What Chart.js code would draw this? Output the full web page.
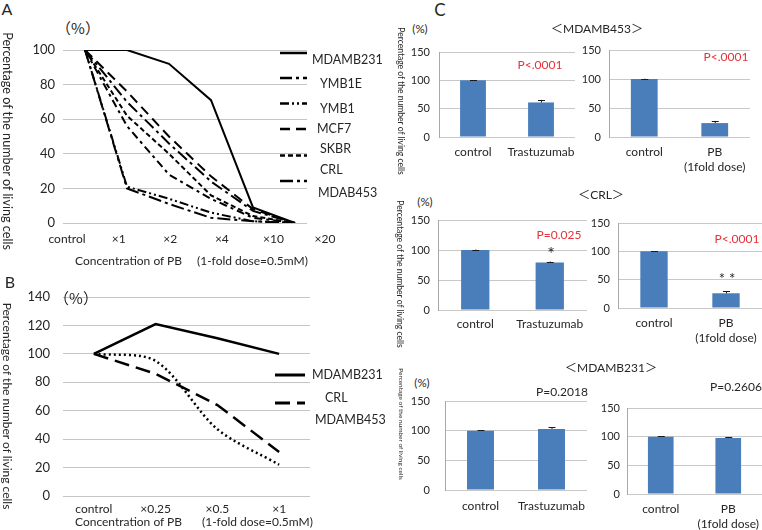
<!DOCTYPE html>
<html><head><meta charset="utf-8">
<script src="https://cdn.jsdelivr.net/npm/chart.js@4.4.1/dist/chart.umd.min.js"></script>
<style>
html,body{margin:0;padding:0;background:#fff;}
#stage{position:relative;width:762px;height:530px;overflow:hidden;font-family:Lato,'Noto Sans CJK JP',sans-serif;color:#262626;}
.t{position:absolute;white-space:nowrap;transform:translate(-50%,-50%);line-height:1;}
.l{position:absolute;white-space:nowrap;transform:translate(0,-50%);line-height:1;}
.v{position:absolute;white-space:nowrap;transform:translate(-50%,-50%) rotate(90deg);line-height:1;}
.cjk{font-family:'Noto Sans CJK JP',sans-serif;}
canvas{position:absolute;}
</style></head><body><div id="stage"></div>
<script>
// ---------- Panel A data ----------
const concLabelsA = ['control','×1','×2','×4','×10','×20'];
const seriesNamesA = ['MDAMB231','YMB1E','YMB1','MCF7','SKBR','CRL','MDAB453'];
const mdamb231A = [100,100,92,71,9,0];
const ymb1eA    = [100,70,46,24,7,0];
const ymb1A     = [100,21,14,6,1,0];
const mcf7A     = [100,76,50,27,8,0];
const skbrA     = [100,62,40,16,4,0];
const crlA      = [100,56,28,14,3,0];
const mdab453A  = [100,20,11,3,1,0];
const yTicksA = [0,20,40,60,80,100];

// ---------- Panel B data ----------
const concLabelsB = ['control','×0.25','×0.5','×1'];
const seriesNamesB = ['MDAMB231','CRL','MDAMB453'];
const mdamb231B = [100,121,111,100];
const crlB      = [100,86,64,31];
const mdamb453B = [100,95,47,22];

// ---------- Panel C data ----------
const groupsTras = ['control','Trastuzumab'];
const groupsPB   = ['control',['PB','(1fold dose)']];
const mdamb453Tras = [100,61],  mdamb453TrasErr = [0.6,4.5];
const mdamb453PB   = [100,24],  mdamb453PBErr   = [0.5,3.8];
const crlTras      = [100,79],  crlTrasErr      = [0.8,1.8];
const crlPB        = [100,26],  crlPBErr        = [0.5,3.8];
const mdamb231Tras = [100,103], mdamb231TrasErr = [0.6,2.8];
const mdamb231PB   = [100,97.5],mdamb231PBErr   = [0.6,2.0];
const pValuesC = ['P<.0001','P<.0001','P=0.025','P<.0001','P=0.2018','P=0.2606'];

// ---------- helpers ----------
const stage = document.getElementById('stage');
const FONT = "Lato, 'Noto Sans CJK JP', sans-serif";
Chart.defaults.font.family = FONT;
Chart.defaults.color = '#262626';
Chart.defaults.animation = false;
Chart.defaults.plugins.legend.display = false;
Chart.defaults.plugins.tooltip.enabled = false;

const yFit = w => s => { s.width = w; s.paddingTop = 0; s.paddingBottom = 0; };
const xFit = h => s => { s.height = h; s.paddingLeft = 0; s.paddingRight = 0; };

function makeChart(plot, pad, config) {
  const [x0,y0,x1,y1] = plot;
  const w = x1-x0+pad.l+pad.r, h = y1-y0+pad.t+pad.b;
  const cv = document.createElement('canvas');
  cv.width = w; cv.height = h;
  cv.style.left = (x0-pad.l)+'px'; cv.style.top = (y0-pad.t)+'px';
  cv.style.width = w+'px'; cv.style.height = h+'px';
  stage.appendChild(cv);
  config.options.responsive = false;
  config.options.maintainAspectRatio = false;
  config.options.layout = {padding:{left:0,top:pad.t,right:pad.r,bottom:0}};
  return new Chart(cv, config);
}

function lineLegendPlugin(layout, origin, fontSize) {
  return { id:'lineLegend', afterDraw(chart) {
    const ctx = chart.ctx; ctx.save();
    chart.data.datasets.forEach((ds,i) => {
      const sy = layout.sampleY[i];
      if (sy != null) {
        ctx.beginPath();
        ctx.setLineDash(ds.borderDash || []);
        ctx.lineWidth = ds.borderWidth + 0.5;
        ctx.strokeStyle = ds.borderColor;
        ctx.moveTo(layout.sampleX[0]-origin[0], sy-origin[1]);
        ctx.lineTo(layout.sampleX[1]-origin[0], sy-origin[1]);
        ctx.stroke();
      }
      ctx.setLineDash([]);
      ctx.fillStyle = '#262626';
      ctx.font = fontSize + 'px ' + FONT;
      ctx.textBaseline = 'middle'; ctx.textAlign = 'left';
      ctx.fillText(ds.label, layout.textX[i]-origin[0], layout.textY[i]-origin[1]);
    });
    ctx.restore();
  }};
}

const errorBarPlugin = { id:'errBars', afterDatasetsDraw(chart) {
  const ctx = chart.ctx, ys = chart.scales.y;
  chart.data.datasets.forEach((ds,di) => {
    const meta = chart.getDatasetMeta(di);
    meta.data.forEach((bar,i) => {
      const top = ys.getPixelForValue(ds.data[i] + ds.errors[i]);
      const base = ys.getPixelForValue(ds.data[i]);
      ctx.save(); ctx.strokeStyle = '#1a1a1a'; ctx.lineWidth = 1;
      ctx.beginPath();
      ctx.moveTo(bar.x+0.5, base); ctx.lineTo(bar.x+0.5, top);
      ctx.moveTo(bar.x-3, Math.round(top)+0.5); ctx.lineTo(bar.x+4, Math.round(top)+0.5);
      ctx.stroke(); ctx.restore();
    });
  });
}};

// ---------- Panel A ----------
const seriesA = [mdamb231A, ymb1eA, ymb1A, mcf7A, skbrA, crlA, mdab453A];
const dashA = [[], [12,4,3,4], [9,3,2,3,2,3], [10,6], [5,3], [8,4,3,4], [13,4,3,4]];
const padA = {l:53,t:10,r:82,b:30};
const plotA = [63,50,307,223];
makeChart(plotA, padA, {
  type:'line',
  data:{ datasets: seriesNamesA.map((n,i) => ({
    label:n, data: seriesA[i].map((v,j) => ({x:j, y:v})), xAxisID:'x', yAxisID:'y',
    borderColor:'#000', borderWidth:2, borderDash:dashA[i], pointRadius:0, fill:false, tension:0
  }))},
  options:{
    scales:{
      x:{type:'linear', min:-0.524, max:5.286, display:false},
      xl:{type:'linear', position:'bottom', min:-0.078, max:4.65, bounds:'data',
        afterBuildTicks: s => { s.ticks = concLabelsA.map((_,i) => ({value:i})); },
        ticks:{autoSkip:false, maxRotation:0, padding:9, font:{size:12}, callback: v => concLabelsA[v]},
        grid:{display:false, drawTicks:false}, border:{display:false}, afterFit: xFit(padA.b)},
      y:{min:0, max:100, afterBuildTicks: s => { s.ticks = yTicksA.map(v => ({value:v})); },
        ticks:{padding:8, font:{size:13}},
        grid:{color:'#c4c4c4', drawTicks:false}, border:{display:false}, afterFit: yFit(padA.l)}
    }
  },
  plugins:[lineLegendPlugin({sampleX:[280,307], sampleY:[53,78,103.5,129,155.5,null,181],
    textX:[312,320,320,317,320,320,318], textY:[60,84,109,129,149,170,193]},
    [plotA[0]-padA.l, plotA[1]-padA.t], 12.5)]
});

// ---------- Panel B ----------
const seriesB = [mdamb231B, crlB, mdamb453B];
const dashB = [[], [15,7], [2,3]];
const tensionB = [0, 0, 0.3];
const padB = {l:53,t:10,r:82,b:22};
const plotB = [63,297,310,496];
makeChart(plotB, padB, {
  type:'line',
  data:{ labels: concLabelsB, datasets: seriesNamesB.map((n,i) => ({
    label:n, data: seriesB[i], borderColor:'#000', borderWidth:2.5, borderDash:dashB[i],
    pointRadius:0, fill:false, tension:tensionB[i]
  }))},
  options:{
    scales:{
      x:{type:'category', offset:true, grid:{display:false, drawTicks:false}, border:{display:false},
        ticks:{padding:6, font:{size:12}, maxRotation:0, autoSkip:false}, afterFit: xFit(padB.b)},
      y:{min:0, max:140, ticks:{stepSize:20, padding:13, font:{size:13}},
        grid:{color:'#c4c4c4', drawTicks:false}, border:{display:false}, afterFit: yFit(padB.l)}
    }
  },
  plugins:[lineLegendPlugin({sampleX:[275,305], sampleY:[375,403,null],
    textX:[312,325,315], textY:[375,398,420]},
    [plotB[0]-padB.l, plotB[1]-padB.t], 12.5)]
});

// ---------- Panel C ----------
function makeBar(plot, pad, cats, values, errs, yPad, xPad) {
  return makeChart(plot, pad, {
    type:'bar',
    data:{ labels:cats, datasets:[{ data:values, errors:errs, backgroundColor:'#4a7ebb',
      barPercentage:0.38, categoryPercentage:1 }]},
    options:{
      scales:{
        x:{grid:{display:false, drawTicks:false}, border:{display:false},
          ticks:{padding:xPad, font:{size:12, lineHeight:1.3}, maxRotation:0, autoSkip:false}, afterFit: xFit(pad.b)},
        y:{min:0, max:150, ticks:{stepSize:50, padding:yPad, font:{size:11}},
          grid:{color:'#c8c8c8', drawTicks:false}, border:{display:true, color:'#a8a8a8'}, afterFit: yFit(pad.l)}
      }
    },
    plugins:[errorBarPlugin]
  });
}
makeBar([439,52,575,137], {l:34,t:8,r:10,b:42}, groupsTras, mdamb453Tras, mdamb453TrasErr, 9, 7);
makeBar([609,50,750,137], {l:30,t:8,r:12,b:42}, groupsPB,   mdamb453PB,   mdamb453PBErr,   8, 7);
makeBar([438,220,587,310],{l:34,t:8,r:10,b:42}, groupsTras, crlTras,      crlTrasErr,      8, 6);
makeBar([618,223,762,308],{l:30,t:8,r:0,b:42},  groupsPB,   crlPB,        crlPBErr,        8, 7);
makeBar([445,401,587,490],{l:40,t:8,r:10,b:40}, groupsTras, mdamb231Tras, mdamb231TrasErr, 15, 8);
makeBar([627,408,762,494],{l:34,t:8,r:0,b:36},  groupsPB,   mdamb231PB,   mdamb231PBErr,   7, 7);

// ---------- text ----------
function txt(s, x, y, size, cls, color) {
  const d = document.createElement('div');
  d.className = cls || 't'; d.textContent = s;
  d.style.left = x+'px'; d.style.top = y+'px'; d.style.fontSize = size+'px';
  if (color) d.style.color = color;
  stage.appendChild(d); return d;
}
function fitLen(d, len) {
  const w = d.offsetWidth;
  d.style.fontSize = (parseFloat(d.style.fontSize)*len/w) + 'px';
}
const yTitle = 'Percentage of the number of living cells';
const xTitle1 = 'Concentration of PB', xTitle2 = '(1-fold dose=0.5mM)';
const RED = '#e8313a';

txt('A', 7, 9, 16);
txt('B', 10, 282, 16);
txt('C', 440, 9, 17);
txt('（%）', 78, 27, 15, 't cjk');
txt('（%）', 76, 297, 15, 't cjk');
fitLen(txt(yTitle, 7, 141, 13, 'v'), 218);
fitLen(txt(yTitle, 7, 406, 13, 'v'), 207);
txt(xTitle1, 75, 261, 12, 'l'); txt(xTitle2, 197, 261, 12, 'l');
txt(xTitle1, 75, 522, 12, 'l'); txt(xTitle2, 202, 522, 12, 'l');

txt('＜MDAMB453＞', 597, 29, 12);
txt('＜CRL＞', 601, 195, 12);
txt('＜MDAMB231＞', 611, 368, 12);
txt('(%)', 420, 29, 11.5); txt('(%)', 425, 202, 11.5); txt('(%)', 422, 383, 11.5);
fitLen(txt(yTitle, 401, 101, 8, 'v'), 148);
fitLen(txt(yTitle, 400, 274, 8, 'v'), 148);
fitLen(txt(yTitle, 401, 424, 7, 'v'), 112);

txt(pValuesC[0], 540, 65, 12, 't', RED);
txt(pValuesC[1], 726, 57, 12, 't', RED);
txt(pValuesC[2], 559, 235, 12, 't', RED);
txt(pValuesC[3], 737, 239, 12, 't', RED);
txt(pValuesC[4], 562, 392, 12);
txt(pValuesC[5], 736, 387, 12);
txt('*', 551, 253, 18);
txt('* *', 727, 278, 15);
</script></body></html>
